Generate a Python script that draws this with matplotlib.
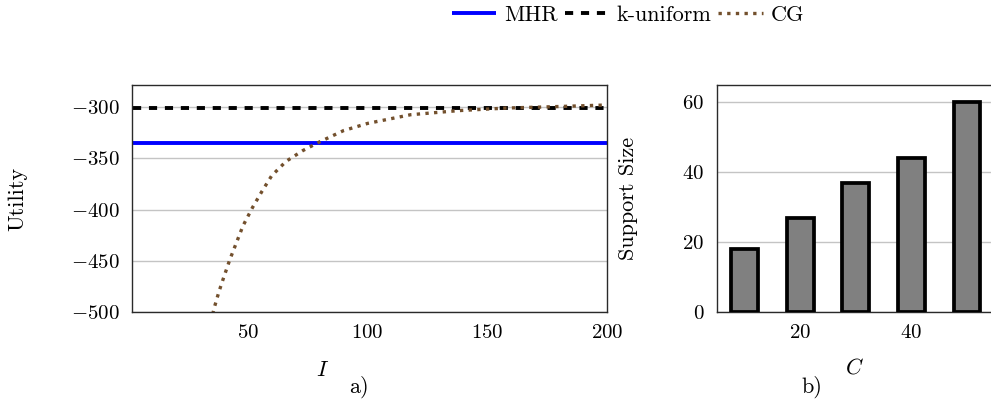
import matplotlib
matplotlib.use("Agg")
import matplotlib.pyplot as plt
from matplotlib.lines import Line2D

plt.rcParams.update({
    "font.family": "serif",
    "font.serif": ["cmr10"],
    "mathtext.fontset": "cm",
    "axes.formatter.use_mathtext": True,
    "font.size": 15,
})

# Panel a) utility versus I
mhr_utility = -335.3
kuniform_utility = -301.0
cg_iters = [32, 36, 38, 40, 42.5, 45, 48, 52, 56, 60, 66, 73, 80, 90, 100,
            118, 138, 158, 180, 200]
cg_utility = [-535, -496, -480, -466, -449, -434, -416, -398, -382, -367,
              -353, -342.5, -334, -323, -316, -307.5, -303.5, -301, -299.5, -298]
a_xticks = [50, 100, 150, 200]
a_yticks = [-500, -450, -400, -350, -300]

# Panel b) support size versus C
c_values = [10, 20, 30, 40, 50]
support_sizes = [18, 27, 37, 44, 60]
b_xticks = [20, 40]
b_yticks = [0, 20, 40, 60]

W, H = 991, 399
fig = plt.figure(figsize=(W / 100, H / 100), dpi=100)

def px_axes(x0, x1, y0, y1):
    return fig.add_axes([x0 / W, 1 - y1 / H, (x1 - x0) / W, (y1 - y0) / H])

blue = "#0000ff"
brown = "#73502d"
grid_c = "#c4c4c4"
spine_c = "#2a2a2a"
label_fs = 16

ax1 = px_axes(132.3, 607, 85, 312)
ax1.plot([2, 200], [mhr_utility] * 2, color=blue, lw=2.8, solid_capstyle="butt")
ax1.plot([2, 200], [kuniform_utility] * 2, color="black", lw=2.8,
         dashes=(2.1, 2.0), dash_capstyle="butt")
ax1.plot(cg_iters, cg_utility, color=brown, lw=2.4, dashes=(1.0, 1.6),
         dash_capstyle="butt")
ax1.set_xlim(1.8, 200)
ax1.set_ylim(-500, -278.5)
ax1.set_xticks(a_xticks)
ax1.set_yticks(a_yticks)
ax1.grid(axis="y", color=grid_c, lw=1.0)
ax1.set_axisbelow(True)
ax1.set_ylabel("Utility", fontsize=label_fs, va="center")
ax1.yaxis.set_label_coords((18 - 132.3) / 474.7, 0.5)
ax1.set_xlabel("$I$", fontsize=label_fs, va="center")
ax1.xaxis.set_label_coords((322.7 - 132.3) / 474.7, (312 - 370) / 227)

ax2 = px_axes(716.7, 996, 85, 312)
ax2.bar(c_values, support_sizes, width=4.8, color="#808080",
        edgecolor="black", linewidth=2.7, zorder=3)
ax2.set_xlim(5, 55.2)
ax2.set_ylim(0, 65)
ax2.set_xticks(b_xticks)
ax2.set_yticks(b_yticks)
ax2.grid(axis="y", color=grid_c, lw=1.0, zorder=0)
ax2.set_axisbelow(True)
ax2.set_ylabel("Support Size", fontsize=label_fs, va="center")
ax2.yaxis.set_label_coords((628 - 716.7) / 279.3, 0.5)
ax2.set_xlabel("$C$", fontsize=label_fs, va="center")
ax2.xaxis.set_label_coords((854 - 716.7) / 279.3, (312 - 367) / 227)

for ax in (ax1, ax2):
    ax.tick_params(length=0, pad=9)
    for s in ax.spines.values():
        s.set_color(spine_c)
        s.set_linewidth(1.0)

fig.text(359 / W, 1 - 387.3 / H, "a)", ha="center", va="center", fontsize=label_fs)
fig.text(812 / W, 1 - 387.3 / H, "b)", ha="center", va="center", fontsize=label_fs)

handles = [
    Line2D([], [], color=blue, lw=2.8, solid_capstyle="butt"),
    Line2D([], [], color="black", lw=2.8, dashes=(2.1, 2.0), dash_capstyle="butt"),
    Line2D([], [], color=brown, lw=2.4, dashes=(1.0, 1.6), dash_capstyle="butt"),
]
fig.legend(handles, ["MHR", "k-uniform", "CG"], loc="center",
           bbox_to_anchor=(628 / W, 1 - 15 / H), ncol=3, frameon=False,
           fontsize=16, handlelength=2.0, handletextpad=0.35,
           columnspacing=0.3, borderpad=0, borderaxespad=0)

fig.savefig("out.png", dpi=100)
